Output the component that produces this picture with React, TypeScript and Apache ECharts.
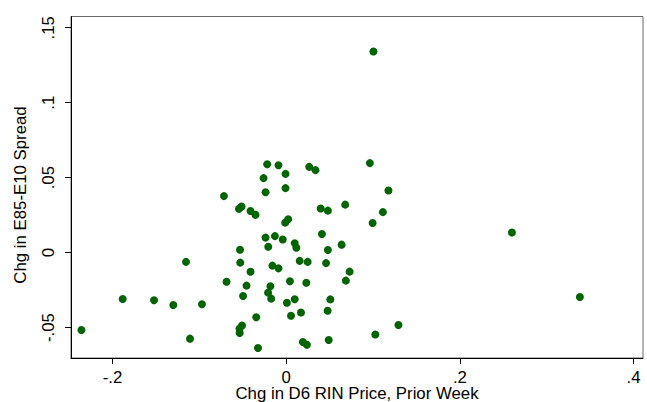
import React, { useEffect, useRef } from 'react';
import * as echarts from 'echarts';

// Chg in D6 RIN Price, Prior Week
const xValues = [
  -0.2358, -0.1883, -0.1522, -0.13, -0.1154, -0.097, -0.1108, 0.1004, -0.0219, -0.0089,
  -0.0008, -0.0261, 0.0265, 0.0337, 0.0963, 0.1177, -0.0238, -0.0008, -0.0717, -0.0544,
  -0.0514, -0.0411, -0.0354, -0.0012, 0.0023, -0.0238, -0.013, -0.004, 0.0098, 0.0117,
  -0.0207, -0.0532, 0.0679, 0.0397, 0.048, 0.1113, 0.0995, 0.0411, 0.0638, 0.048,
  -0.0529, -0.0411, -0.0687, -0.0457, -0.0497, -0.0159, -0.0089, -0.0182, -0.0209, -0.0173,
  0.0043, 0.0231, 0.0155, 0.0247, 0.0008, 0.0098, 0.0055, 0.017, -0.0345, -0.0509,
  -0.0538, -0.0536, -0.0325, 0.0192, 0.0238, 0.0459, 0.073, 0.0687, 0.0508, 0.0477,
  0.1026, 0.1292, 0.0489, 0.2599, 0.3381,
];
// Chg in E85-E10 Spread
const yValues = [
  -0.0516, -0.0309, -0.0318, -0.0349, -0.0062, -0.0344, -0.0574, 0.1342, 0.0589, 0.0583,
  0.0525, 0.0497, 0.0572, 0.055, 0.0597, 0.0414, 0.0403, 0.043, 0.0377, 0.0292,
  0.0307, 0.0278, 0.0252, 0.02, 0.0222, 0.01, 0.011, 0.0088, 0.0063, 0.0033,
  0.0039, 0.0019, 0.032, 0.0294, 0.028, 0.027, 0.0197, 0.0124, 0.0053, 0.0017,
  -0.0067, -0.0128, -0.0194, -0.022, -0.0289, -0.0087, -0.0105, -0.0224, -0.0267, -0.0307,
  -0.0191, -0.0201, -0.0055, -0.0062, -0.0334, -0.0311, -0.0421, -0.0399, -0.0431, -0.0486,
  -0.0507, -0.0536, -0.0636, -0.0596, -0.0615, -0.007, -0.0127, -0.0187, -0.0312, -0.0388,
  -0.0546, -0.0483, -0.0583, 0.0134, -0.0296,
];
const xTicks = [-0.2, 0, 0.2, 0.4];
const yTicks = [-0.05, 0, 0.05, 0.1, 0.15];
const xTitle = 'Chg in D6 RIN Price, Prior Week';
const yTitle = 'Chg in E85-E10 Spread';

const fmt = (v: number) => {
  if (Math.abs(v) < 1e-9) return '0';
  const s = String(+v.toFixed(4));
  return s.replace(/^(-?)0\./, '$1.');
};

const FONT = '"Liberation Sans", Arial, sans-serif';

export default function App() {
  const ref = useRef<HTMLDivElement>(null);
  useEffect(() => {
    document.body.style.margin = '0';
    const chart = echarts.init(ref.current!, undefined, { renderer: 'svg' });
    const data = xValues.map((x, i) => [x, yValues[i]]);
    chart.setOption({
      animation: false,
      backgroundColor: '#ffffff',
      grid: {
        left: 71,
        top: 16.5,
        right: 4,
        bottom: 44,
        outerBoundsMode: 'none',
        containLabel: false,
        show: true,
        borderColor: '#666666',
        borderWidth: 1,
        backgroundColor: '#ffffff',
      },
      graphic: [
        {
          type: 'text',
          x: 20,
          y: 195,
          rotation: Math.PI / 2,
          style: {
            text: yTitle,
            font: `16.8px ${FONT}`,
            fill: '#000',
            align: 'center',
            verticalAlign: 'middle',
          },
        },
      ],
      xAxis: {
        type: 'value',
        min: -0.2478,
        max: 0.4108,
        name: xTitle,
        nameLocation: 'middle',
        nameGap: 35,
        nameMoveOverlap: false,
        nameTextStyle: {
          fontFamily: FONT,
          fontSize: 16.8,
          lineHeight: 14,
          color: '#000',
          verticalAlign: 'middle',
        },
        axisLine: { show: true, onZero: false, lineStyle: { color: '#000', width: 1 } },
        axisTick: { show: true, length: 6, customValues: xTicks, lineStyle: { color: '#000' } },
        axisLabel: {
          customValues: xTicks,
          formatter: fmt,
          margin: 12,
          fontFamily: FONT,
          fontSize: 16.8,
          lineHeight: 14,
          color: '#000',
        },
        splitLine: { show: false },
      },
      yAxis: {
        type: 'value',
        min: -0.0703,
        max: 0.1575,
        axisLine: { show: true, onZero: false, lineStyle: { color: '#000', width: 1 } },
        axisTick: { show: true, length: 6, customValues: yTicks, lineStyle: { color: '#000' } },
        axisLabel: {
          customValues: yTicks,
          formatter: fmt,
          rotate: 90,
          margin: 14,
          fontFamily: FONT,
          fontSize: 16.8,
          color: '#000',
        },
        splitLine: { show: false },
      },
      series: [
        {
          type: 'scatter',
          data,
          symbol: 'circle',
          symbolSize: 8,
          itemStyle: { color: '#006400', opacity: 1 },
          emphasis: { disabled: true },
        },
      ],
    });
    return () => chart.dispose();
  }, []);
  return <div ref={ref} style={{ width: 647, height: 402 }} />;
}
